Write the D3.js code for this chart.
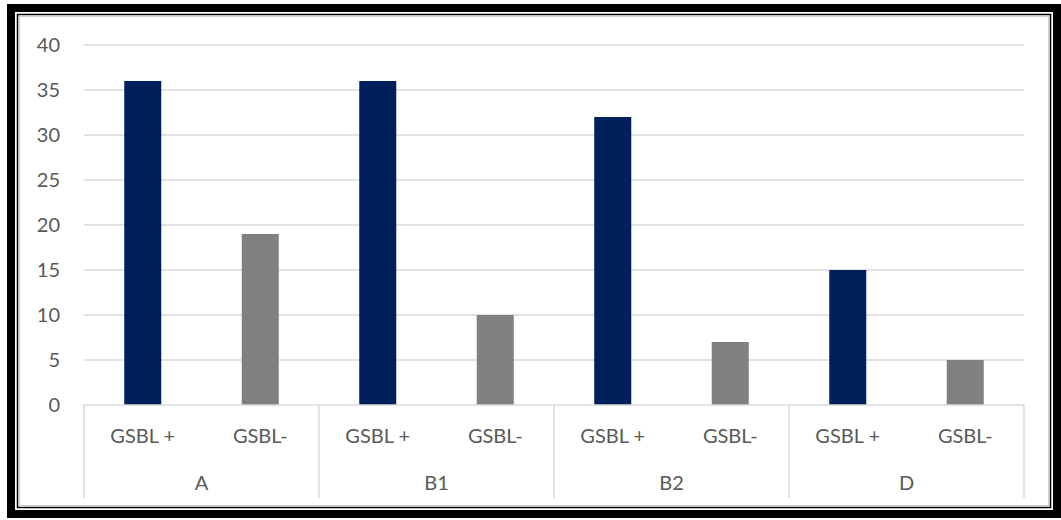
<!DOCTYPE html>
<html><head><meta charset="utf-8">
<script src="https://cdn.jsdelivr.net/npm/d3@7"></script>
<style>html,body{margin:0;padding:0;background:#fff;}svg{display:block;}</style>
</head><body>
<script>
const groups = ["A", "B1", "B2", "D"];
const subCategories = ["GSBL +", "GSBL-"];
const valuesPlus = [36, 36, 32, 15];
const valuesMinus = [19, 10, 7, 5];
const yTicks = [0, 5, 10, 15, 20, 25, 30, 35, 40];
const colors = ["#00205B", "#808080"];

(function () {
const W = 1061, H = 520;
const svg = d3.select("body").append("svg").attr("width", W).attr("height", H);

// frame
svg.append("rect").attr("x", 11).attr("y", 8).attr("width", 1046).attr("height", 506)
  .attr("fill", "none").attr("stroke", "#000").attr("stroke-width", 8);
svg.append("rect").attr("x", 17.5).attr("y", 14.5).attr("width", 1033).attr("height", 493)
  .attr("fill", "none").attr("stroke", "#000").attr("stroke-width", 1.5);
svg.append("rect").attr("x", 19.5).attr("y", 16.5).attr("width", 1029).attr("height", 489)
  .attr("fill", "none").attr("stroke", "#d0d0d0").attr("stroke-width", 1);

const pLeft = 84, pRight = 1024, pTop = 45, pBottom = 405;
const y = d3.scaleLinear().domain([0, 40]).range([pBottom, pTop]);
const xg = d3.scaleBand().domain(groups).range([pLeft, pRight]).padding(0);
const xs = d3.scaleBand().domain(subCategories).range([0, xg.bandwidth()]).paddingInner(0.685).paddingOuter(0.3425);

const font = "Lato, 'Open Sans', sans-serif";
const txt = "#595959";

// gridlines
svg.append("g").selectAll("line").data(yTicks.filter(d => d > 0)).join("line")
  .attr("x1", pLeft).attr("x2", pRight)
  .attr("y1", d => y(d)).attr("y2", d => y(d))
  .attr("stroke", "#d9d9d9").attr("stroke-width", 1.5);

// y labels
svg.append("g").selectAll("text").data(yTicks).join("text")
  .attr("x", 60).attr("y", d => y(d)).attr("dy", "0.36em")
  .attr("text-anchor", "end").attr("font-family", font).attr("font-size", 20)
  .attr("fill", txt).text(d => d);

// bars
const data = [];
groups.forEach((g, i) => {
  data.push({g, s: subCategories[0], v: valuesPlus[i], c: colors[0]});
  data.push({g, s: subCategories[1], v: valuesMinus[i], c: colors[1]});
});
svg.append("g").selectAll("rect").data(data).join("rect")
  .attr("x", d => xg(d.g) + xs(d.s))
  .attr("width", xs.bandwidth())
  .attr("y", d => y(d.v))
  .attr("height", d => y(0) - y(d.v))
  .attr("fill", d => d.c);

// axis line
svg.append("line").attr("x1", pLeft).attr("x2", pRight).attr("y1", pBottom).attr("y2", pBottom)
  .attr("stroke", "#d9d9d9").attr("stroke-width", 1.5);
// separators
const seps = groups.map(g => xg(g)).concat([pRight]);
svg.append("g").selectAll("line").data(seps).join("line")
  .attr("x1", d => d).attr("x2", d => d).attr("y1", pBottom).attr("y2", 498)
  .attr("stroke", "#d9d9d9").attr("stroke-width", 1.5);

// sub labels
svg.append("g").selectAll("text").data(data).join("text")
  .attr("x", d => xg(d.g) + xs(d.s) + xs.bandwidth() / 2)
  .attr("y", 443).attr("text-anchor", "middle")
  .attr("font-family", font).attr("font-size", 20).attr("fill", txt)
  .text(d => d.s);
// group labels
svg.append("g").selectAll("text").data(groups).join("text")
  .attr("x", d => xg(d) + xg.bandwidth() / 2).attr("y", 490).attr("text-anchor", "middle")
  .attr("font-family", font).attr("font-size", 20).attr("fill", txt)
  .text(d => d);
})();
</script>
</body></html>
